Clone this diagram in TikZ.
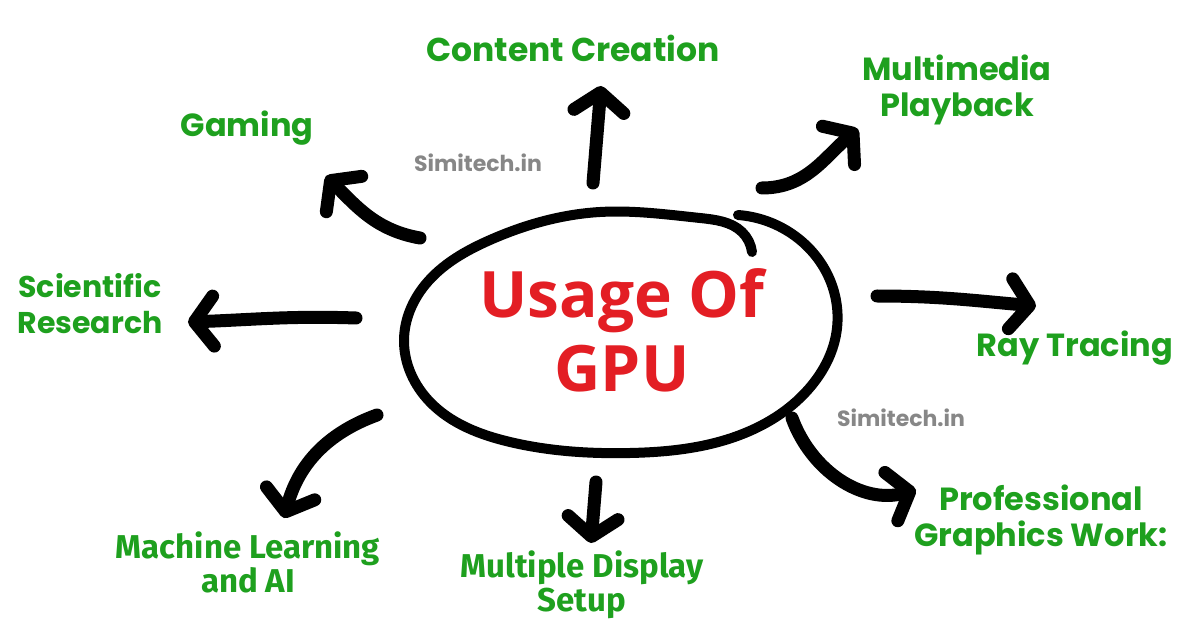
\documentclass[tikz,border=0pt]{standalone}
\usepackage{fontspec}
\setmainfont{Poppins}
\newfontfamily\titolofont{Open Sans}
\newfontfamily\strettofont{Fira Sans}
\usepackage{tikz}
\usetikzlibrary{arrows.meta, positioning, hobby}
\usepackage{xcolor}
\definecolor{verde}{RGB}{30,160,30}
\definecolor{rosso}{RGB}{227,30,36}
\definecolor{grigio}{RGB}{135,135,135}

\begin{document}
\begin{tikzpicture}[x=1pt, y=-1pt,
    voce/.style={text=verde, font=\bfseries\fontsize{32}{36}\selectfont, align=center, inner sep=0pt},
    vocestretta/.style={voce, font=\strettofont\bfseries\fontsize{33}{34}\selectfont},
    marchio/.style={text=grigio, font=\bfseries\fontsize{22}{24}\selectfont, inner sep=0pt},
    freccia/.style={line width=13pt, line cap=round, -{Straight Barb[round, length=19pt, width=50pt]}}]
    % Sfondo
    \useasboundingbox[fill=white] (0,0) rectangle (1200,628);
    % Titolo
    \node[text=rosso, font=\titolofont\bfseries\fontsize{64}{74}\selectfont, align=center] (titolo) at (622,330) {Usage Of\\GPU};
    % Contorno
    \draw[line width=10pt, line cap=round] (738,215) to[curve through = {(795,236) .. (830,280) .. (836,335) .. (812,385) .. (740,435) .. (630,453) .. (510,442) .. (430,402) .. (404,340) .. (425,285) .. (490,240) .. (600,212) .. (700,218) .. (742,232)}] (752,252);
    % Voci
    \node[voce, font=\bfseries\fontsize{33}{36}\selectfont] (contenuti) at (573,48) {Content Creation};
    \node[voce] (multimedia) at (957,90) {Multimedia\\Playback};
    \node[voce] (gaming) at (247,128) {Gaming};
    \node[voce, font=\bfseries\fontsize{30}{36}\selectfont] (ricerca) at (90,304) {Scientific\\Research};
    \node[voce] (ray) at (1075,348) {Ray Tracing};
    \node[voce] (grafica) at (1041,520) {Professional\\Graphics Work:};
    \node[vocestretta] (ml) at (248,562) {Machine Learning\\and AI};
    \node[vocestretta] (schermi) at (582,585) {Multiple Display\\Setup};
    \node[marchio] (marchio1) at (478,163) {Simitech.in};
    \node[marchio] (marchio2) at (901,418) {Simitech.in};
    % Frecce
    \coordinate (da1) at (593,183);
    \coordinate (a1) at (601,86);
    \draw[freccia] (da1) -- (a1);
    \coordinate (da2) at (762,188);
    \coordinate (a2) at (858,129);
    \draw[freccia] (da2) to[out=0, in=220] (a2);
    \coordinate (da3) at (420,238);
    \coordinate (a3) at (326,176);
    \draw[freccia] (da3) to[out=170, in=-45] (a3);
    \coordinate (da4) at (356,318);
    \coordinate (a4) at (188,322);
    \draw[freccia] (da4) to[out=178, in=2] (a4);
    \coordinate (da5) at (877,296);
    \coordinate (a5) at (1036,306);
    \draw[freccia] (da5) to[out=0, in=175] (a5);
    \coordinate (da6) at (792,418);
    \coordinate (a6) at (916,490);
    \draw[freccia] (da6) to[out=-70, in=195] (a6);
    \coordinate (da7) at (596,482);
    \coordinate (a7) at (591,543);
    \draw[freccia] (da7) -- (a7);
    \coordinate (da8) at (377,415);
    \coordinate (a8) at (284,518);
    \draw[freccia] (da8) to[out=200, in=75] (a8);
\end{tikzpicture}
\end{document}
